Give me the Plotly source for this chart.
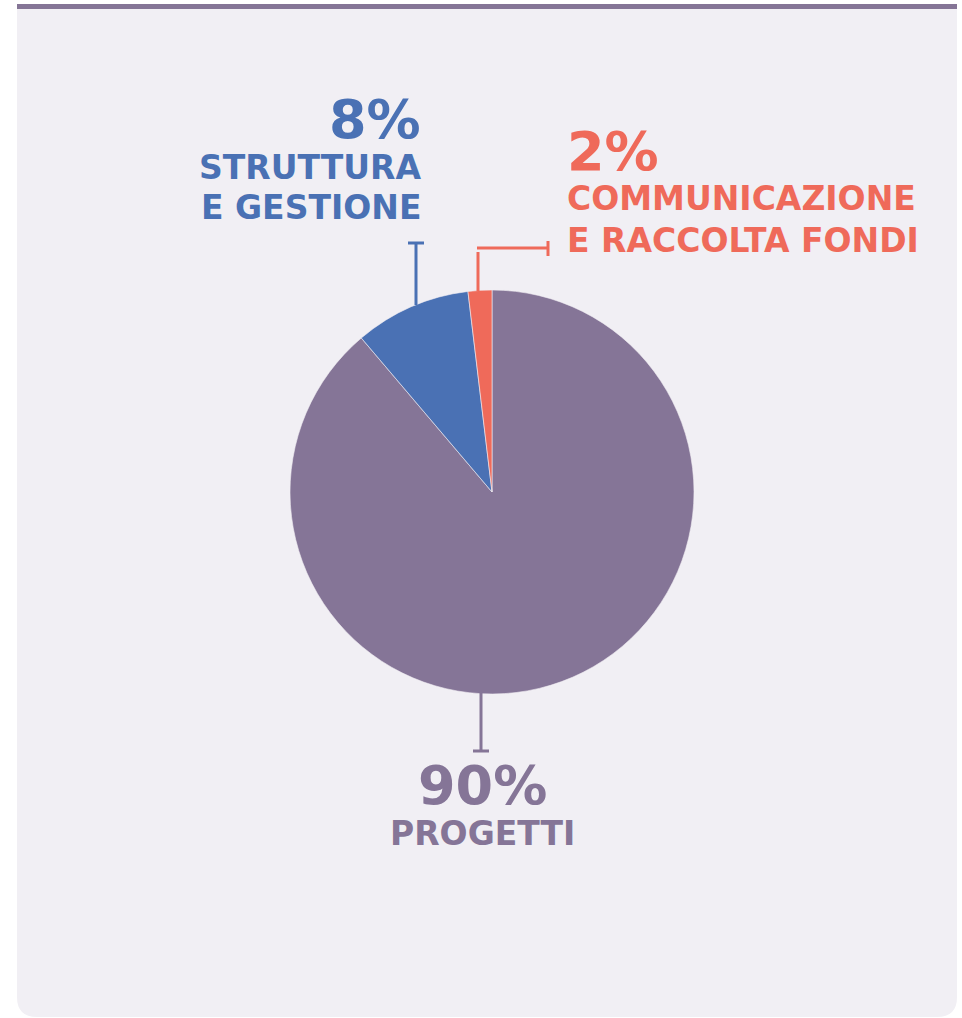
import plotly.graph_objects as go

# ---- data ----
categories = ["Progetti", "Struttura e gestione", "Comunicazione e raccolta fondi"]
slice_values = [88.8, 9.3, 1.9]
pct_labels = ["90%", "8%", "2%"]
name_lines = [["PROGETTI"], ["STRUTTURA", "E GESTIONE"], ["COMMUNICAZIONE", "E RACCOLTA FONDI"]]
colors = ["#857597", "#4a71b4", "#ef6a5a"]

W, H = 962, 1018
BG = "#f1eff4"
FONT = "DejaVu Sans"


def px(x):
    return x / W


def py(y):
    return 1 - y / H


# pie geometry (pixels)
cx, cy, r = 492, 492, 202

fig = go.Figure()
fig.add_trace(go.Pie(
    labels=categories,
    values=slice_values,
    marker=dict(colors=colors, line=dict(color=BG, width=0.6)),
    sort=False,
    direction="clockwise",
    rotation=0,
    textinfo="none",
    textposition="none",
    hoverinfo="label+percent",
    showlegend=False,
    domain=dict(x=[px(cx - r), px(cx + r)], y=[py(cy + r), py(cy - r)]),
))

shapes = []
# card with rounded bottom corners
L, R, T, B, rad = 17, 957, 4, 1017, 20
card_path = (f"M {px(L)},{py(T)} L {px(R)},{py(T)} L {px(R)},{py(B - rad)} "
             f"Q {px(R)},{py(B)} {px(R - rad)},{py(B)} L {px(L + rad)},{py(B)} "
             f"Q {px(L)},{py(B)} {px(L)},{py(B - rad)} Z")
shapes.append(dict(type="path", path=card_path, xref="paper", yref="paper",
                   fillcolor=BG, line=dict(width=0), layer="below"))
# top bar
shapes.append(dict(type="rect", xref="paper", yref="paper", x0=px(L), x1=px(R),
                   y0=py(9), y1=py(4), fillcolor="#857596", line=dict(width=0), layer="below"))


def seg(x0, y0, x1, y1, color):
    shapes.append(dict(type="line", xref="paper", yref="paper", x0=px(x0), y0=py(y0),
                       x1=px(x1), y1=py(y1), line=dict(color=color, width=3)))


# leader lines
seg(416, 243, 416, 305, colors[1])
seg(408, 243, 424, 243, colors[1])
seg(478, 252, 478, 291, colors[2])
seg(477, 248, 548, 248, colors[2])
seg(548, 241, 548, 256, colors[2])
seg(481, 692, 481, 751, colors[0])
seg(473, 751, 489, 751, colors[0])

annotations = []


def txt(s, x, y, anchor, size, color):
    annotations.append(dict(text=s, x=px(x), y=py(y), xref="paper", yref="paper",
                            xanchor=anchor, yanchor="middle", showarrow=False,
                            font=dict(family=FONT, size=size, color=color, weight="bold")))


PS, NS = 54, 33
# blue labels (right aligned)
txt(pct_labels[1], 423, 119, "right", PS, colors[1])
txt(name_lines[1][0], 423, 167, "right", NS, colors[1])
txt(name_lines[1][1], 423, 208, "right", NS, colors[1])
# red labels (left aligned)
txt(pct_labels[2], 565, 152, "left", PS, colors[2])
txt(name_lines[2][0], 565, 199, "left", NS, colors[2])
txt(name_lines[2][1], 565, 240, "left", NS, colors[2])
# purple labels (centered)
txt(pct_labels[0], 482, 785, "center", PS, colors[0])
txt(name_lines[0][0], 482, 833, "center", NS, colors[0])

fig.update_layout(
    width=W, height=H,
    margin=dict(l=0, r=0, t=0, b=0),
    paper_bgcolor="white",
    plot_bgcolor="white",
    shapes=shapes,
    annotations=annotations,
)

fig.write_html("out.html")
